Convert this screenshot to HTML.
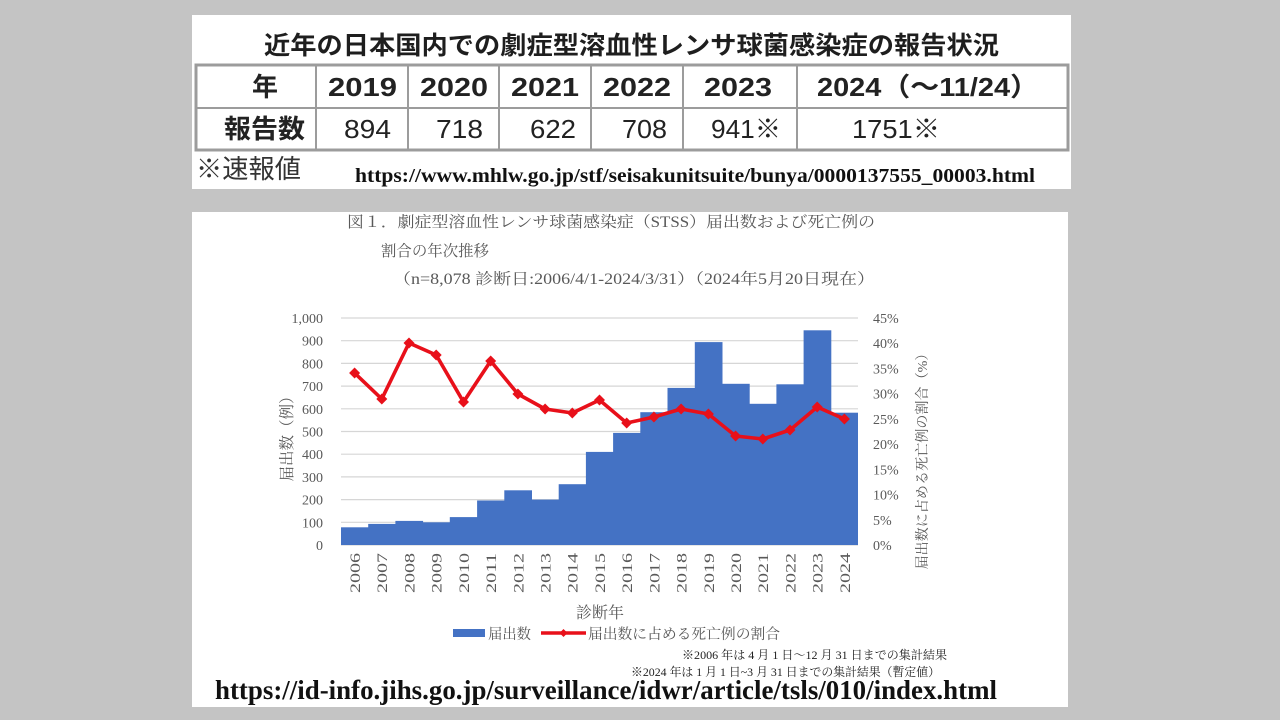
<!DOCTYPE html>
<html><head><meta charset="utf-8"><style>
html,body{margin:0;padding:0;background:#c4c4c4;}
svg{display:block;}
</style></head><body>
<svg width="1280" height="720" viewBox="0 0 1280 720" xmlns="http://www.w3.org/2000/svg">
<rect x="0" y="0" width="1280" height="720" fill="#c4c4c4"/>
<!-- top box -->
<rect x="192" y="15" width="879" height="174" fill="#ffffff"/>
<g font-family="'Liberation Sans','Noto Sans CJK JP',sans-serif" fill="#1e1e1e">
<text x="264" y="54" font-size="25" font-weight="bold" textLength="735" lengthAdjust="spacingAndGlyphs">近年の日本国内での劇症型溶血性レンサ球菌感染症の報告状況</text>
</g>
<!-- table -->
<g fill="none" stroke="#9c9c9c">
<rect x="196" y="65" width="872" height="85" stroke-width="3"/>
<line x1="196" y1="108" x2="1068" y2="108" stroke-width="2"/>
<line x1="316" y1="65" x2="316" y2="150" stroke-width="2"/>
<line x1="408" y1="65" x2="408" y2="150" stroke-width="2"/>
<line x1="499" y1="65" x2="499" y2="150" stroke-width="2"/>
<line x1="591" y1="65" x2="591" y2="150" stroke-width="2"/>
<line x1="683" y1="65" x2="683" y2="150" stroke-width="2"/>
<line x1="797" y1="65" x2="797" y2="150" stroke-width="2"/>
</g>
<g font-family="'Liberation Sans','Noto Sans CJK JP',sans-serif" fill="#222" font-size="26">
<text x="252" y="96" font-weight="bold" textLength="26" lengthAdjust="spacingAndGlyphs">年</text>
<text x="328" y="96" font-weight="bold" textLength="69" lengthAdjust="spacingAndGlyphs">2019</text>
<text x="420" y="96" font-weight="bold" textLength="68" lengthAdjust="spacingAndGlyphs">2020</text>
<text x="511" y="96" font-weight="bold" textLength="68" lengthAdjust="spacingAndGlyphs">2021</text>
<text x="603" y="96" font-weight="bold" textLength="68" lengthAdjust="spacingAndGlyphs">2022</text>
<text x="704" y="96" font-weight="bold" textLength="68" lengthAdjust="spacingAndGlyphs">2023</text>
<text x="817" y="96" font-weight="bold" textLength="222" lengthAdjust="spacingAndGlyphs">2024（～11/24）</text>
<text x="224" y="138" font-weight="bold" textLength="81" lengthAdjust="spacingAndGlyphs">報告数</text>
<text x="344" y="138" textLength="47" lengthAdjust="spacingAndGlyphs">894</text>
<text x="436" y="138" textLength="47" lengthAdjust="spacingAndGlyphs">718</text>
<text x="530" y="138" textLength="46" lengthAdjust="spacingAndGlyphs">622</text>
<text x="622" y="138" textLength="45" lengthAdjust="spacingAndGlyphs">708</text>
<text x="711" y="138" textLength="70" lengthAdjust="spacingAndGlyphs">941※</text>
<text x="852" y="138" textLength="88" lengthAdjust="spacingAndGlyphs">1751※</text>
<text x="196" y="178" fill="#333" textLength="105" lengthAdjust="spacingAndGlyphs">※速報値</text>
</g>
<text x="355" y="182" font-family="'Liberation Serif',serif" font-weight="bold" font-size="20" fill="#111" textLength="680" lengthAdjust="spacingAndGlyphs">https://www.mhlw.go.jp/stf/seisakunitsuite/bunya/0000137555_00003.html</text>

<!-- bottom box -->
<rect x="192" y="212" width="876" height="495" fill="#ffffff"/>
<g font-family="'Liberation Serif','Noto Serif CJK SC',serif" fill="#595959">
<text x="347" y="227" font-size="15.5" textLength="528" lengthAdjust="spacingAndGlyphs">図１．劇症型溶血性レンサ球菌感染症（STSS）届出数および死亡例の</text>
<text x="381" y="256" font-size="15.5" textLength="108" lengthAdjust="spacingAndGlyphs">割合の年次推移</text>
<text x="393" y="284" font-size="15.5" textLength="482" lengthAdjust="spacingAndGlyphs">（n=8,078 診断日:2006/4/1-2024/3/31）（2024年5月20日現在）</text>
</g>

<!-- gridlines -->
<g stroke="#d6d6d6" stroke-width="1.2">
<line x1="341" y1="318" x2="858" y2="318"/>
<line x1="341" y1="340.7" x2="858" y2="340.7"/>
<line x1="341" y1="363.4" x2="858" y2="363.4"/>
<line x1="341" y1="386.1" x2="858" y2="386.1"/>
<line x1="341" y1="408.8" x2="858" y2="408.8"/>
<line x1="341" y1="431.5" x2="858" y2="431.5"/>
<line x1="341" y1="454.2" x2="858" y2="454.2"/>
<line x1="341" y1="476.9" x2="858" y2="476.9"/>
<line x1="341" y1="499.6" x2="858" y2="499.6"/>
<line x1="341" y1="522.3" x2="858" y2="522.3"/>
<line x1="341" y1="545" x2="858" y2="545"/>
</g>

<!-- bars -->
<g fill="#4472c4">
<rect x="341.0" y="527.3" width="27.7" height="17.7"/>
<rect x="368.2" y="523.9" width="27.7" height="21.1"/>
<rect x="395.4" y="520.9" width="27.7" height="24.1"/>
<rect x="422.6" y="522.3" width="27.7" height="22.7"/>
<rect x="449.8" y="517.1" width="27.7" height="27.9"/>
<rect x="477.1" y="500.5" width="27.7" height="44.5"/>
<rect x="504.3" y="490.3" width="27.7" height="54.7"/>
<rect x="531.5" y="499.6" width="27.7" height="45.4"/>
<rect x="558.7" y="484.2" width="27.7" height="60.8"/>
<rect x="585.9" y="451.9" width="27.7" height="93.1"/>
<rect x="613.1" y="432.9" width="27.7" height="112.1"/>
<rect x="640.3" y="412.2" width="27.7" height="132.8"/>
<rect x="667.5" y="387.9" width="27.7" height="157.1"/>
<rect x="694.8" y="342.1" width="27.7" height="202.9"/>
<rect x="722.0" y="383.8" width="27.7" height="161.2"/>
<rect x="749.2" y="403.8" width="27.7" height="141.2"/>
<rect x="776.4" y="384.3" width="27.7" height="160.7"/>
<rect x="803.6" y="330.3" width="27.7" height="214.7"/>
<rect x="830.8" y="412.7" width="27.2" height="132.3"/>
</g>

<!-- line -->
<polyline fill="none" stroke="#e8101a" stroke-width="3.6" stroke-linejoin="round"
points="354.6,373 381.8,399 409,343 436.2,355 463.5,402 490.7,361 517.9,394 545.1,409 572.3,413 599.5,400 626.7,423 653.9,417 681.1,409 708.4,414 735.6,436 762.8,439 790,430 817.2,407 844.4,419"/>
<g fill="#e8101a">
<path d="M354.6,367.5 l5.5,5.5 l-5.5,5.5 l-5.5,-5.5z"/>
<path d="M381.8,393.5 l5.5,5.5 l-5.5,5.5 l-5.5,-5.5z"/>
<path d="M409,337.5 l5.5,5.5 l-5.5,5.5 l-5.5,-5.5z"/>
<path d="M436.2,349.5 l5.5,5.5 l-5.5,5.5 l-5.5,-5.5z"/>
<path d="M463.5,396.5 l5.5,5.5 l-5.5,5.5 l-5.5,-5.5z"/>
<path d="M490.7,355.5 l5.5,5.5 l-5.5,5.5 l-5.5,-5.5z"/>
<path d="M517.9,388.5 l5.5,5.5 l-5.5,5.5 l-5.5,-5.5z"/>
<path d="M545.1,403.5 l5.5,5.5 l-5.5,5.5 l-5.5,-5.5z"/>
<path d="M572.3,407.5 l5.5,5.5 l-5.5,5.5 l-5.5,-5.5z"/>
<path d="M599.5,394.5 l5.5,5.5 l-5.5,5.5 l-5.5,-5.5z"/>
<path d="M626.7,417.5 l5.5,5.5 l-5.5,5.5 l-5.5,-5.5z"/>
<path d="M653.9,411.5 l5.5,5.5 l-5.5,5.5 l-5.5,-5.5z"/>
<path d="M681.1,403.5 l5.5,5.5 l-5.5,5.5 l-5.5,-5.5z"/>
<path d="M708.4,408.5 l5.5,5.5 l-5.5,5.5 l-5.5,-5.5z"/>
<path d="M735.6,430.5 l5.5,5.5 l-5.5,5.5 l-5.5,-5.5z"/>
<path d="M762.8,433.5 l5.5,5.5 l-5.5,5.5 l-5.5,-5.5z"/>
<path d="M790,424.5 l5.5,5.5 l-5.5,5.5 l-5.5,-5.5z"/>
<path d="M817.2,401.5 l5.5,5.5 l-5.5,5.5 l-5.5,-5.5z"/>
<path d="M844.4,413.5 l5.5,5.5 l-5.5,5.5 l-5.5,-5.5z"/>
</g>

<!-- left ticks -->
<g font-family="'Liberation Serif',serif" font-size="14" fill="#595959" text-anchor="end">
<text x="323" y="323">1,000</text>
<text x="323" y="345.7">900</text>
<text x="323" y="368.4">800</text>
<text x="323" y="391.1">700</text>
<text x="323" y="413.8">600</text>
<text x="323" y="436.5">500</text>
<text x="323" y="459.2">400</text>
<text x="323" y="481.9">300</text>
<text x="323" y="504.6">200</text>
<text x="323" y="527.3">100</text>
<text x="323" y="550">0</text>
</g>
<!-- right ticks -->
<g font-family="'Liberation Serif',serif" font-size="14" fill="#595959">
<text x="873" y="323">45%</text>
<text x="873" y="348.2">40%</text>
<text x="873" y="373.4">35%</text>
<text x="873" y="398.7">30%</text>
<text x="873" y="423.9">25%</text>
<text x="873" y="449.1">20%</text>
<text x="873" y="474.3">15%</text>
<text x="873" y="499.6">10%</text>
<text x="873" y="524.8">5%</text>
<text x="873" y="550">0%</text>
</g>
<!-- axis titles -->
<g font-family="'Liberation Serif','Noto Serif CJK SC',serif" fill="#595959">
<text transform="translate(292,435) rotate(-90)" text-anchor="middle" font-size="15.5">届出数（例）</text>
<text transform="translate(927,458) rotate(-90)" text-anchor="middle" font-size="14" textLength="223" lengthAdjust="spacingAndGlyphs">届出数に占める死亡例の割合（%）</text>
</g>
<!-- x labels -->
<g font-family="'Liberation Serif',serif" font-size="15" fill="#595959" text-anchor="end">
<text transform="translate(360,553) rotate(-90)" textLength="40" lengthAdjust="spacingAndGlyphs">2006</text>
<text transform="translate(387.2,553) rotate(-90)" textLength="40" lengthAdjust="spacingAndGlyphs">2007</text>
<text transform="translate(414.4,553) rotate(-90)" textLength="40" lengthAdjust="spacingAndGlyphs">2008</text>
<text transform="translate(441.6,553) rotate(-90)" textLength="40" lengthAdjust="spacingAndGlyphs">2009</text>
<text transform="translate(468.9,553) rotate(-90)" textLength="40" lengthAdjust="spacingAndGlyphs">2010</text>
<text transform="translate(496.1,553) rotate(-90)" textLength="40" lengthAdjust="spacingAndGlyphs">2011</text>
<text transform="translate(523.3,553) rotate(-90)" textLength="40" lengthAdjust="spacingAndGlyphs">2012</text>
<text transform="translate(550.5,553) rotate(-90)" textLength="40" lengthAdjust="spacingAndGlyphs">2013</text>
<text transform="translate(577.7,553) rotate(-90)" textLength="40" lengthAdjust="spacingAndGlyphs">2014</text>
<text transform="translate(604.9,553) rotate(-90)" textLength="40" lengthAdjust="spacingAndGlyphs">2015</text>
<text transform="translate(632.1,553) rotate(-90)" textLength="40" lengthAdjust="spacingAndGlyphs">2016</text>
<text transform="translate(659.3,553) rotate(-90)" textLength="40" lengthAdjust="spacingAndGlyphs">2017</text>
<text transform="translate(686.5,553) rotate(-90)" textLength="40" lengthAdjust="spacingAndGlyphs">2018</text>
<text transform="translate(713.8,553) rotate(-90)" textLength="40" lengthAdjust="spacingAndGlyphs">2019</text>
<text transform="translate(741,553) rotate(-90)" textLength="40" lengthAdjust="spacingAndGlyphs">2020</text>
<text transform="translate(768.2,553) rotate(-90)" textLength="40" lengthAdjust="spacingAndGlyphs">2021</text>
<text transform="translate(795.4,553) rotate(-90)" textLength="40" lengthAdjust="spacingAndGlyphs">2022</text>
<text transform="translate(822.6,553) rotate(-90)" textLength="40" lengthAdjust="spacingAndGlyphs">2023</text>
<text transform="translate(849.8,553) rotate(-90)" textLength="40" lengthAdjust="spacingAndGlyphs">2024</text>
</g>
<!-- x title and legend -->
<g font-family="'Liberation Serif','Noto Serif CJK SC',serif" fill="#595959">
<text x="600" y="618" font-size="16" text-anchor="middle">診断年</text>
<rect x="453" y="629" width="32" height="8" fill="#4472c4"/>
<text x="488" y="639" font-size="14.5" textLength="43" lengthAdjust="spacingAndGlyphs">届出数</text>
<line x1="541" y1="633" x2="586" y2="633" stroke="#e8101a" stroke-width="3.5"/>
<path d="M563.5,629 l4,4 l-4,4 l-4,-4z" fill="#e8101a"/>
<text x="588" y="639" font-size="14.5" textLength="192" lengthAdjust="spacingAndGlyphs">届出数に占める死亡例の割合</text>
</g>
<g font-family="'Liberation Serif','Noto Serif CJK SC',serif" fill="#222" font-size="12">
<text x="682" y="659" textLength="265" lengthAdjust="spacingAndGlyphs">※2006 年は 4 月 1 日～12 月 31 日までの集計結果</text>
<text x="631" y="676" textLength="309" lengthAdjust="spacingAndGlyphs">※2024 年は 1 月 1 日~3 月 31 日までの集計結果（暫定値）</text>
</g>
<text x="215" y="699" font-family="'Liberation Serif',serif" font-weight="bold" font-size="27" fill="#111" textLength="782" lengthAdjust="spacingAndGlyphs">https://id-info.jihs.go.jp/surveillance/idwr/article/tsls/010/index.html</text>
</svg>
</body></html>
